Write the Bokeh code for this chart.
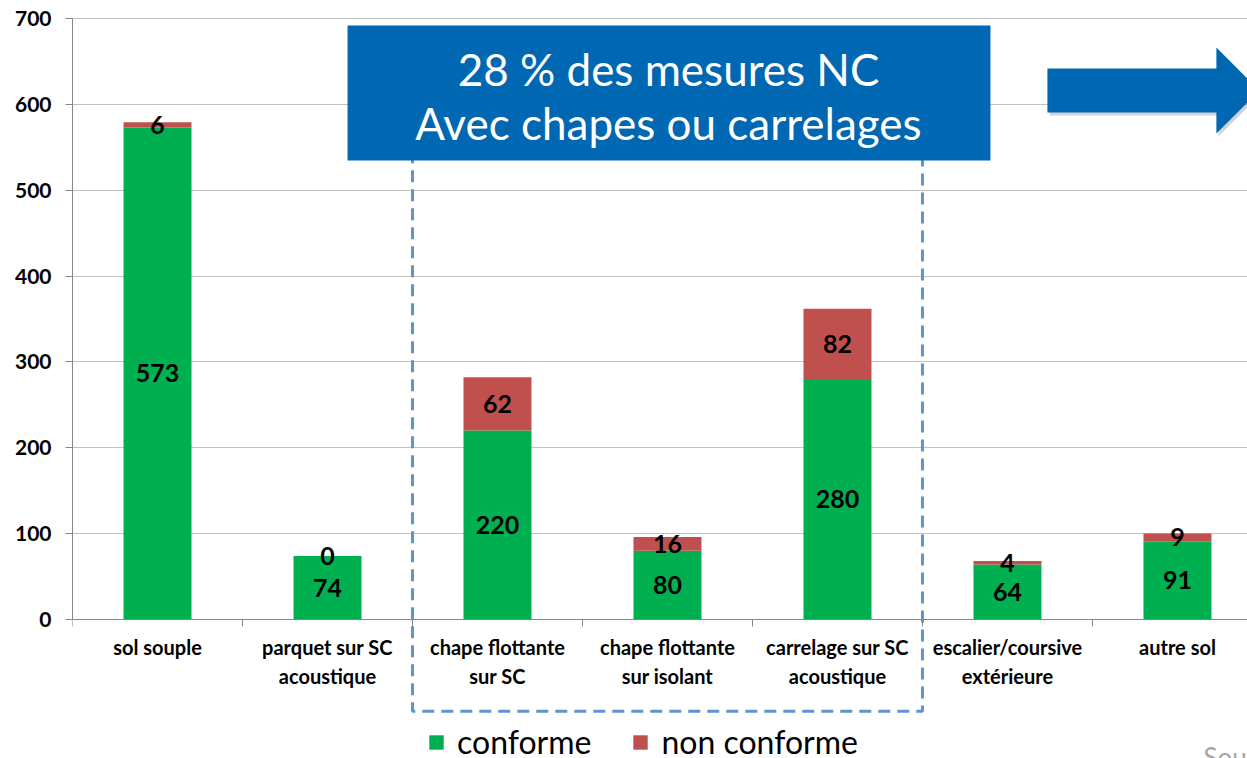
from bokeh.plotting import figure
from bokeh.models import FixedTicker, Legend, LegendItem, Range1d
from bokeh.embed import file_html
from bokeh.resources import INLINE
from bokeh.core.properties import value

# ---------------- data ----------------
categories = ["sol souple", "parquet sur SC\nacoustique", "chape flottante\nsur SC",
              "chape flottante\nsur isolant", "carrelage sur SC\nacoustique",
              "escalier/coursive\nextérieure", "autre sol"]
conforme = [573, 74, 220, 80, 280, 64, 91]
non_conforme = [6, 0, 62, 16, 82, 4, 9]
series_names = ["conforme", "non conforme"]
y_ticks = [0, 100, 200, 300, 400, 500, 600, 700]
highlighted = [2, 3, 4]          # categories inside the dashed frame
callout_lines = ["28 % des mesures NC", "Avec chapes ou carrelages"]
source_note = "Source"

# ---------------- style ----------------
GREEN = "#00B050"
RED = "#C0504D"
BLUE = "#0067B2"
DASH = "#5F94CF"
AXIS = "#868686"
GRID = "#C0C0C0"
FONT = "Lato"

n = len(categories)
xs = [i + 0.5 for i in range(n)]
tops = [c + k for c, k in zip(conforme, non_conforme)]
mid_c = [c / 2 for c in conforme]
mid_nc = [c + k / 2 for c, k in zip(conforme, non_conforme)]

p = figure(width=1247, height=758, output_backend="svg", toolbar_location=None,
           x_range=Range1d(0, 6.912), y_range=Range1d(-161.9, 720.9),
           min_border_left=72, min_border_right=0, min_border_top=0, min_border_bottom=0)
p.outline_line_color = None
p.xgrid.visible = False
p.ygrid.grid_line_color = GRID
p.ygrid.grid_line_width = 1
p.background_fill_color = "white"

# y axis
ya = p.yaxis[0]
ya.ticker = FixedTicker(ticks=y_ticks, minor_ticks=[])
ya.bounds = (0, 700)
ya.axis_line_color = AXIS
ya.major_tick_line_color = AXIS
ya.major_tick_out = 7
ya.major_tick_in = 0
ya.minor_tick_line_color = None
ya.major_label_text_font = FONT
ya.major_label_text_font_style = "bold"
ya.major_label_text_font_size = "21px"
ya.major_label_text_color = "black"
ya.major_label_standoff = 14

# x axis (at y = 0)
xa = p.xaxis[0]
xa.fixed_location = 0
xa.ticker = FixedTicker(ticks=xs, minor_ticks=list(range(n + 1)))
xa.major_label_overrides = {x: c for x, c in zip(xs, categories)}
xa.major_tick_line_color = None
xa.minor_tick_line_color = AXIS
xa.minor_tick_out = 7
xa.minor_tick_in = 0
xa.axis_line_color = AXIS
xa.major_label_text_font = FONT
xa.major_label_text_font_style = "bold"
xa.major_label_text_font_size = "20px"
xa.major_label_text_color = "black"
xa.major_label_standoff = 9

# bars
r_c = p.vbar(x=xs, width=0.4, bottom=0, top=conforme, fill_color=GREEN, line_color=None)
r_nc = p.vbar(x=xs, width=0.4, bottom=conforme, top=tops, fill_color=RED, line_color=None)

# value labels
p.text(x=xs, y=mid_c, text=[str(v) for v in conforme], text_align="center",
       text_baseline="middle", text_font=value(FONT), text_font_style="bold",
       text_font_size="25px", text_color="black")
p.text(x=xs, y=mid_nc, text=[str(v) for v in non_conforme], text_align="center",
       text_baseline="middle", text_font=value(FONT), text_font_style="bold",
       text_font_size="25px", text_color="black")

# dashed highlight frame
p.quad(left=[min(highlighted)], right=[max(highlighted) + 1], bottom=[-107], top=[545],
       fill_color=None, line_color=DASH, line_width=3, line_dash="12 7")

# callout box
p.quad(left=[1.618], right=[5.4], bottom=[534.6], top=[691.8], fill_color=BLUE, line_color=None)
p.text(x=[3.506, 3.506], y=[641.7, 577.7], text=callout_lines, text_align="center",
       text_baseline="middle", text_font=value(FONT), text_font_size="44px", text_color="white")

# arrow (with faint shadow)
arrow_x = [5.735, 6.729, 6.729, 6.982, 6.729, 6.729, 5.735]
arrow_y = [641.7, 641.7, 666.2, 616.0, 566.0, 590.5, 590.5]
p.patch(x=[v + 0.012 for v in arrow_x], y=[v - 3.5 for v in arrow_y],
        fill_color="#808080", fill_alpha=0.35, line_color=None)
p.patch(x=arrow_x, y=arrow_y, fill_color=BLUE, line_color=None)

# source note (cut by the right edge, as in the original)
p.text(x=[6.653], y=[-142], text=[source_note], text_align="left", text_baseline="top",
       text_font=value(FONT), text_font_size="26px", text_color="#A6A6A6")

legend = Legend(items=[LegendItem(label=series_names[0], renderers=[r_c]),
                       LegendItem(label=series_names[1], renderers=[r_nc])],
                orientation="horizontal", location=(355, -3),
                glyph_width=18, glyph_height=18, label_standoff=12, spacing=40,
                padding=0, margin=0, border_line_color=None, background_fill_alpha=0,
                label_text_font=FONT, label_text_font_size="32px", label_text_color="black")
p.add_layout(legend)

open("out.html", "w").write(file_html(p, INLINE))
